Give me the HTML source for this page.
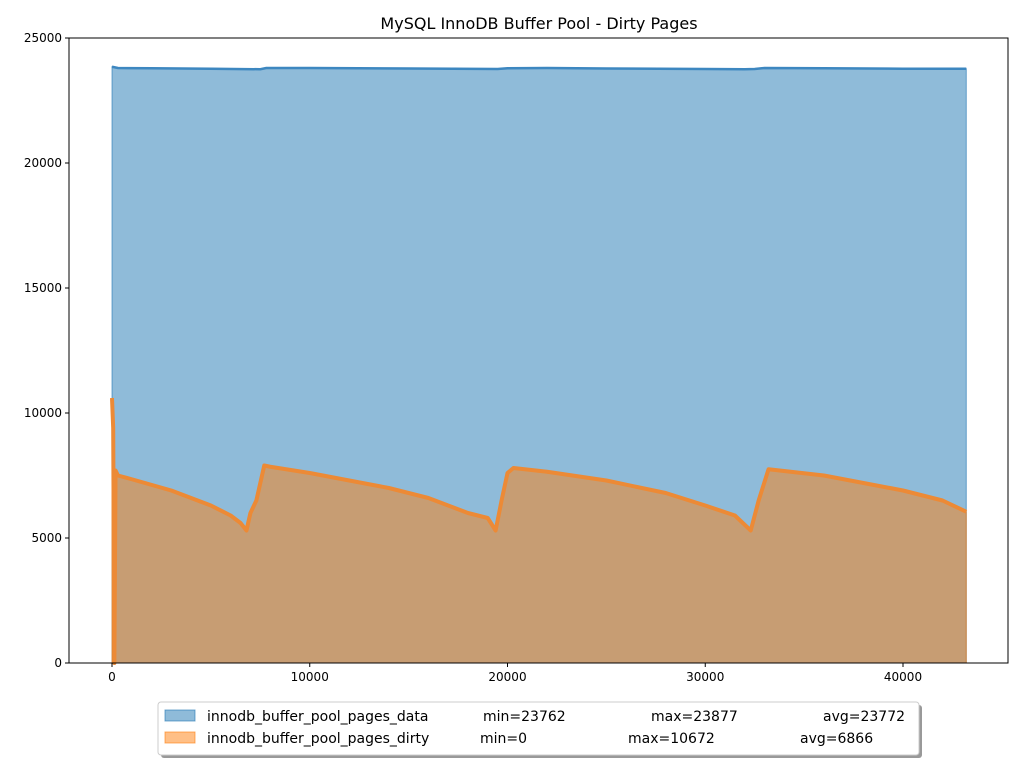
<!DOCTYPE html>
<html><head><meta charset="utf-8"><style>
body{margin:0;background:#fff;font-family:"Liberation Sans","DejaVu Sans",sans-serif}
svg{display:block}
</style></head><body>
<svg id="c" width="1024" height="768" font-family="DejaVu Sans, Liberation Sans, sans-serif"></svg>
<script>
const dataX=[0,300,2000,5000,7500,7800,10000,15000,19500,20000,22000,25000,30000,32000,32500,33000,36000,40000,43200];
const dataY=[23850,23800,23790,23770,23750,23800,23800,23780,23760,23790,23800,23780,23760,23750,23760,23800,23790,23770,23770];
const dirtyX=[0,60,120,180,300,1000,3000,5000,6000,6500,6800,7000,7300,7700,8000,10000,12000,14000,16000,18000,19000,19400,19700,20000,20300,22000,25000,28000,30000,31500,32300,32700,33200,36000,38000,40000,42000,43200];
const dirtyY=[10600,9400,0,7700,7500,7350,6900,6300,5900,5600,5300,6000,6500,7900,7850,7600,7300,7000,6600,6000,5800,5300,6500,7600,7800,7650,7300,6800,6300,5900,5300,6500,7750,7500,7200,6900,6500,6050];
const xTicks=[0,10000,20000,30000,40000];
const yTicks=[0,5000,10000,15000,20000,25000];
const legendNames=["innodb_buffer_pool_pages_data","innodb_buffer_pool_pages_dirty"];
const legendMin=["min=23762","min=0"];
const legendMax=["max=23877","max=10672"];
const legendAvg=["avg=23772","avg=6866"];

const L=69,R=1008,T=38,B=663;
const sx=v=>112+v*(903-112)/40000;
const sy=v=>B-v*(B-T)/25000;
const svg=document.getElementById('c');
const NS='http://www.w3.org/2000/svg';
function el(t,a,p){const e=document.createElementNS(NS,t);for(const k in a)e.setAttribute(k,a[k]);(p||svg).appendChild(e);return e;}
function area(xs,ys){let d='M'+sx(xs[0])+','+sy(0);xs.forEach((x,i)=>d+=' L'+sx(x)+','+sy(ys[i]));d+=' L'+sx(xs[xs.length-1])+','+sy(0)+' Z';return d;}
function line(xs,ys){return xs.map((x,i)=>(i?'L':'M')+sx(x)+','+sy(ys[i])).join(' ');}

const t=el('text',{x:539,y:29,'text-anchor':'middle','font-size':16});t.textContent='MySQL InnoDB Buffer Pool - Dirty Pages';



const a1=el('path',{d:area(dataX,dataY),fill:'#1f77b4','fill-opacity':0.5,stroke:'#1f77b4','stroke-opacity':0.6});


const l1=el('path',{d:line(dataX,dataY),fill:'none',stroke:'#3d87c0','stroke-width':2.5});


const a2=el('path',{d:area(dirtyX,dirtyY),fill:'#ff7f0e','fill-opacity':0.5,stroke:'#ff7f0e','stroke-opacity':0.6});


const l2=el('path',{d:line(dirtyX,dirtyY),fill:'none',stroke:'#ec8a36','stroke-width':4,'stroke-linejoin':'round'});



const frame=el('rect',{x:L,y:T,width:R-L,height:B-T,fill:'none',stroke:'#000','stroke-width':1});



xTicks.forEach(v=>{const x=sx(v);
 const tk=el('line',{x1:x,x2:x,y1:B,y2:B+4,stroke:'#000'});
 
 
 const tx=el('text',{x:x,y:B+18,'text-anchor':'middle','font-size':12});tx.textContent=v;
 
 
});
yTicks.forEach(v=>{const y=sy(v);
 const tk=el('line',{x1:L-4,x2:L,y1:y,y2:y,stroke:'#000'});
 
 
 const tx=el('text',{x:L-7,y:y+4,'text-anchor':'end','font-size':12});tx.textContent=v;
 
 
});

const lg=el('g',{});


el('rect',{x:161,y:705,width:761,height:53,rx:3,fill:'#999'},lg);
el('rect',{x:158,y:702,width:761,height:53,rx:3,fill:'#fff',stroke:'#ccc'},lg);
const sw=[['#1f77b4','#1f77b4'],['#ff7f0e','#ff7f0e']];
const mx=[[483,651,823],[480,628,800]];
legendNames.forEach((n,i)=>{const y=716+i*22;
 const g=el('g',{},lg);
 
 
 el('rect',{x:165,y:y-6,width:30,height:11,fill:sw[i][0],'fill-opacity':0.5,stroke:sw[i][1],'stroke-opacity':0.6},g);
 const vals=[n,legendMin[i],legendMax[i],legendAvg[i]];const xs=[207].concat(mx[i]);
 vals.forEach((s,j)=>{const tx=el('text',{x:xs[j],y:y+5,'font-size':14},g);tx.textContent=s;});
});
</script>
</body></html>
